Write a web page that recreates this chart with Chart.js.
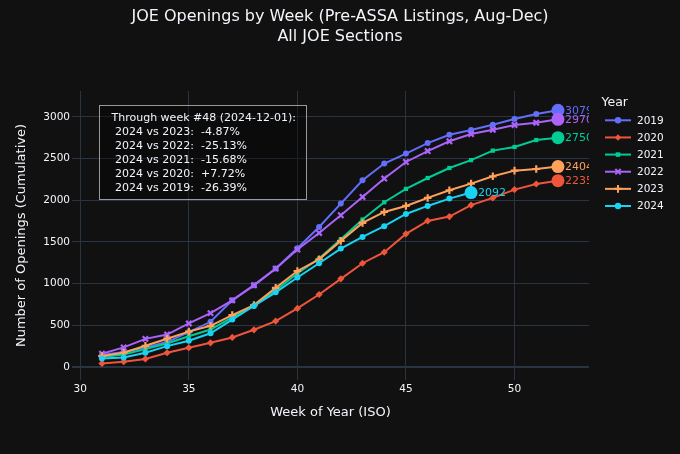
<!DOCTYPE html>
<html><head><meta charset="utf-8">
<script src="https://cdn.jsdelivr.net/npm/chart.js@4.4.1/dist/chart.umd.min.js"></script>
<style>html,body{margin:0;padding:0;background:#111111;}canvas{display:block;}</style>
</head><body>
<canvas id="c" width="680" height="454"></canvas>
<script>
// ---- data ----
const weeks = [31,32,33,34,35,36,37,38,39,40,41,42,43,44,45,46,47,48,49,50,51,52];
const weeks2024 = [31,32,33,34,35,36,37,38,39,40,41,42,43,44,45,46,47,48];
const years = ['2019','2020','2021','2022','2023','2024'];
const v2019 = [145,180,235,300,420,543,802,982,1182,1425,1680,1960,2240,2440,2560,2686,2786,2842,2906,2974,3034,3079];
const v2020 = [44,64,98,172,232,291,355,447,551,703,870,1058,1245,1377,1597,1752,1805,1942,2028,2128,2195,2235];
const v2021 = [122,152,216,283,370,451,595,743,922,1122,1302,1533,1769,1976,2136,2267,2387,2481,2595,2639,2722,2750];
const v2022 = [160,236,338,390,523,647,800,980,1180,1409,1608,1820,2040,2260,2459,2590,2707,2794,2846,2902,2930,2970];
const v2023 = [132,172,255,340,425,495,623,743,950,1152,1292,1513,1728,1860,1932,2028,2120,2199,2287,2355,2375,2404];
const v2024 = [104,116,172,251,315,405,569,732,896,1074,1245,1421,1561,1689,1836,1932,2020,2092];
const xTicks = [30,35,40,45,50];
const yTicks = [0,500,1000,1500,2000,2500,3000];
const titleLines = ['JOE Openings by Week (Pre-ASSA Listings, Aug-Dec)', 'All JOE Sections'];
const xTitle = 'Week of Year (ISO)';
const yTitle = 'Number of Openings (Cumulative)';
const legendTitle = 'Year';
const noteLines = [
  'Through week #48 (2024-12-01):',
  ' 2024 vs 2023:  -4.87%',
  ' 2024 vs 2022:  -25.13%',
  ' 2024 vs 2021:  -15.68%',
  ' 2024 vs 2020:  +7.72%',
  ' 2024 vs 2019:  -26.39%'
];

// ---- styling ----
const FONT = "'DejaVu Sans', Verdana, sans-serif";
const TXT = '#f2f5fa';
const GRID = '#283442';
const colors = ['#636efa','#EF553B','#00cc96','#ab63fa','#FFA15A','#19d3f3'];
const markers = ['circle','rectRot','rect','crossRot','cross','circle'];
const seriesX = [weeks,weeks,weeks,weeks,weeks,weeks2024];
const seriesY = [v2019,v2020,v2021,v2022,v2023,v2024];

Chart.defaults.font.family = FONT;
Chart.defaults.color = TXT;

const datasets = years.map((yr,i)=>{
  const xs = seriesX[i], ys = seriesY[i];
  const last = xs.length-1;
  const cross = markers[i]==='cross'||markers[i]==='crossRot';
  return {
    label: yr,
    data: xs.map((w,j)=>({x:w,y:ys[j]})),
    yAxisID: 'y',
    borderColor: colors[i],
    backgroundColor: colors[i],
    borderWidth: 2,
    pointBackgroundColor: colors[i],
    pointBorderColor: colors[i],
    pointStyle: c => c.dataIndex===last ? 'circle' : markers[i],
    pointRadius: c => c.dataIndex===last ? 6.5 : (cross ? 3.8 : (markers[i]==='rectRot'?3.6:3)),
    pointBorderWidth: c => c.dataIndex===last ? 0 : (cross ? 2.2 : 0),
    pointHoverRadius: 0,
    tension: 0,
    order: years.length - i,
    _marker: markers[i]
  };
});

const bgPlugin = {
  id:'bg',
  beforeDraw(chart){
    const {ctx,width,height} = chart;
    ctx.save(); ctx.fillStyle='#111111'; ctx.fillRect(0,0,width,height); ctx.restore();
  }
};

const endLabels = {
  id:'endLabels',
  afterDatasetsDraw(chart){
    const {ctx, chartArea:a} = chart;
    ctx.save();
    ctx.beginPath(); ctx.rect(a.left,a.top,a.right-a.left,a.bottom-a.top); ctx.clip();
    ctx.font = '11px ' + FONT;
    ctx.textBaseline = 'middle'; ctx.textAlign = 'left';
    chart.data.datasets.forEach((ds,i)=>{
      const meta = chart.getDatasetMeta(i);
      const pt = meta.data[meta.data.length-1];
      const val = ds.data[ds.data.length-1].y;
      ctx.fillStyle = ds.borderColor;
      ctx.fillText(String(val), pt.x + 7, pt.y + 0.5);
    });
    ctx.restore();
  }
};

const notePlugin = {
  id:'note',
  afterDatasetsDraw(chart){
    const {ctx, chartArea:a} = chart;
    ctx.save();
    ctx.font = '11px ' + FONT;
    let w = 0; noteLines.forEach(l=>{ w = Math.max(w, ctx.measureText(l).width); });
    const left = a.left + 27, top = a.top + 14;
    const bw = w + 23, bh = 93.5;
    ctx.fillStyle = 'rgba(0,0,0,0.35)';
    ctx.fillRect(left, top, bw, bh);
    ctx.strokeStyle = 'rgba(200,200,200,0.75)'; ctx.lineWidth = 1;
    ctx.strokeRect(Math.round(left)+0.5, Math.round(top)+0.5, Math.round(bw), Math.round(bh));
    ctx.fillStyle = TXT; ctx.textBaseline = 'middle'; ctx.textAlign = 'left';
    noteLines.forEach((l,k)=>{ ctx.fillText(l, left + 12.5, top + 12.7 + k*14); });
    ctx.restore();
  }
};

const legendPlugin = {
  id:'customLegend',
  afterDraw(chart){
    const {ctx, chartArea:a} = chart;
    ctx.save();
    ctx.fillStyle = TXT; ctx.textBaseline='middle'; ctx.textAlign='left';
    ctx.font = '12.5px ' + FONT;
    ctx.fillText(legendTitle, a.right + 12.5, a.top + 11.7);
    ctx.font = '10.5px ' + FONT;
    chart.data.datasets.forEach((ds,i)=>{
      const y = a.top + 29.3 + i*17.14;
      const x0 = a.right + 16, x1 = a.right + 42;
      ctx.strokeStyle = ds.borderColor; ctx.fillStyle = ds.borderColor; ctx.lineWidth = 2;
      ctx.beginPath(); ctx.moveTo(x0,y); ctx.lineTo(x1,y); ctx.stroke();
      const cross = ds._marker==='cross'||ds._marker==='crossRot';
      Chart.helpers.drawPoint(ctx, {pointStyle: ds._marker, radius: cross?3.8:3.2, borderWidth: cross?2.2:0, rotation:0}, (x0+x1)/2, y);
      ctx.fillStyle = TXT;
      ctx.fillText(ds.label, a.right + 48, y + 0.5);
    });
    ctx.restore();
  }
};

new Chart(document.getElementById('c'), {
  type:'line',
  data:{ datasets },
  options:{
    responsive:false,
    animation:false,
    events:[],
    layout:{ padding:{ left:0, right:0, top:0, bottom:0 } },
    plugins:{
      legend:{ display:false },
      tooltip:{ enabled:false },
      title:{
        display:true, text:titleLines, color:TXT,
        font:{ family:FONT, size:16, weight:'normal', lineHeight:'20px' },
        padding:{ top:7, bottom:44 }
      }
    },
    scales:{
      x:{
        type:'linear', min:29.62, max:53.43,
        afterBuildTicks: s => { s.ticks = xTicks.map(v=>({value:v})); },
        afterFit: s => { s.height = 74; },
        grid:{ color:GRID, lineWidth:1, drawTicks:false },
        border:{ display:false },
        ticks:{ color:TXT, padding:3, font:{ family:FONT, size:10.5 }, callback:v=>String(v) },
        title:{ display:true, text:xTitle, color:TXT, font:{ family:FONT, size:13 }, padding:{ top:0, bottom:34 } }
      },
      y:{
        type:'linear', min:-155, max:3310,
        afterBuildTicks: s => { s.ticks = yTicks.map(v=>({value:v})); },
        afterFit: s => { s.width = 72; },
        grid:{ color:GRID, lineWidth: c => (c.tick && c.tick.value===0) ? 2 : 1, drawTicks:false },
        border:{ display:false },
        ticks:{ color:TXT, padding:2, font:{ family:FONT, size:10.5 }, callback:v=>String(v) },
        title:{ display:true, text:yTitle, color:TXT, font:{ family:FONT, size:13 }, padding:{ top:14, bottom:0 } }
      },
      legendSpace:{
        type:'linear', position:'right', display:true, min:0, max:1,
        afterBuildTicks: s => { s.ticks = []; },
        afterFit: s => { s.width = 91; },
        grid:{ display:false, drawTicks:false },
        border:{ display:false },
        ticks:{ display:false },
        title:{ display:false }
      }
    }
  },
  plugins:[bgPlugin, endLabels, notePlugin, legendPlugin]
});
</script>
</body></html>
